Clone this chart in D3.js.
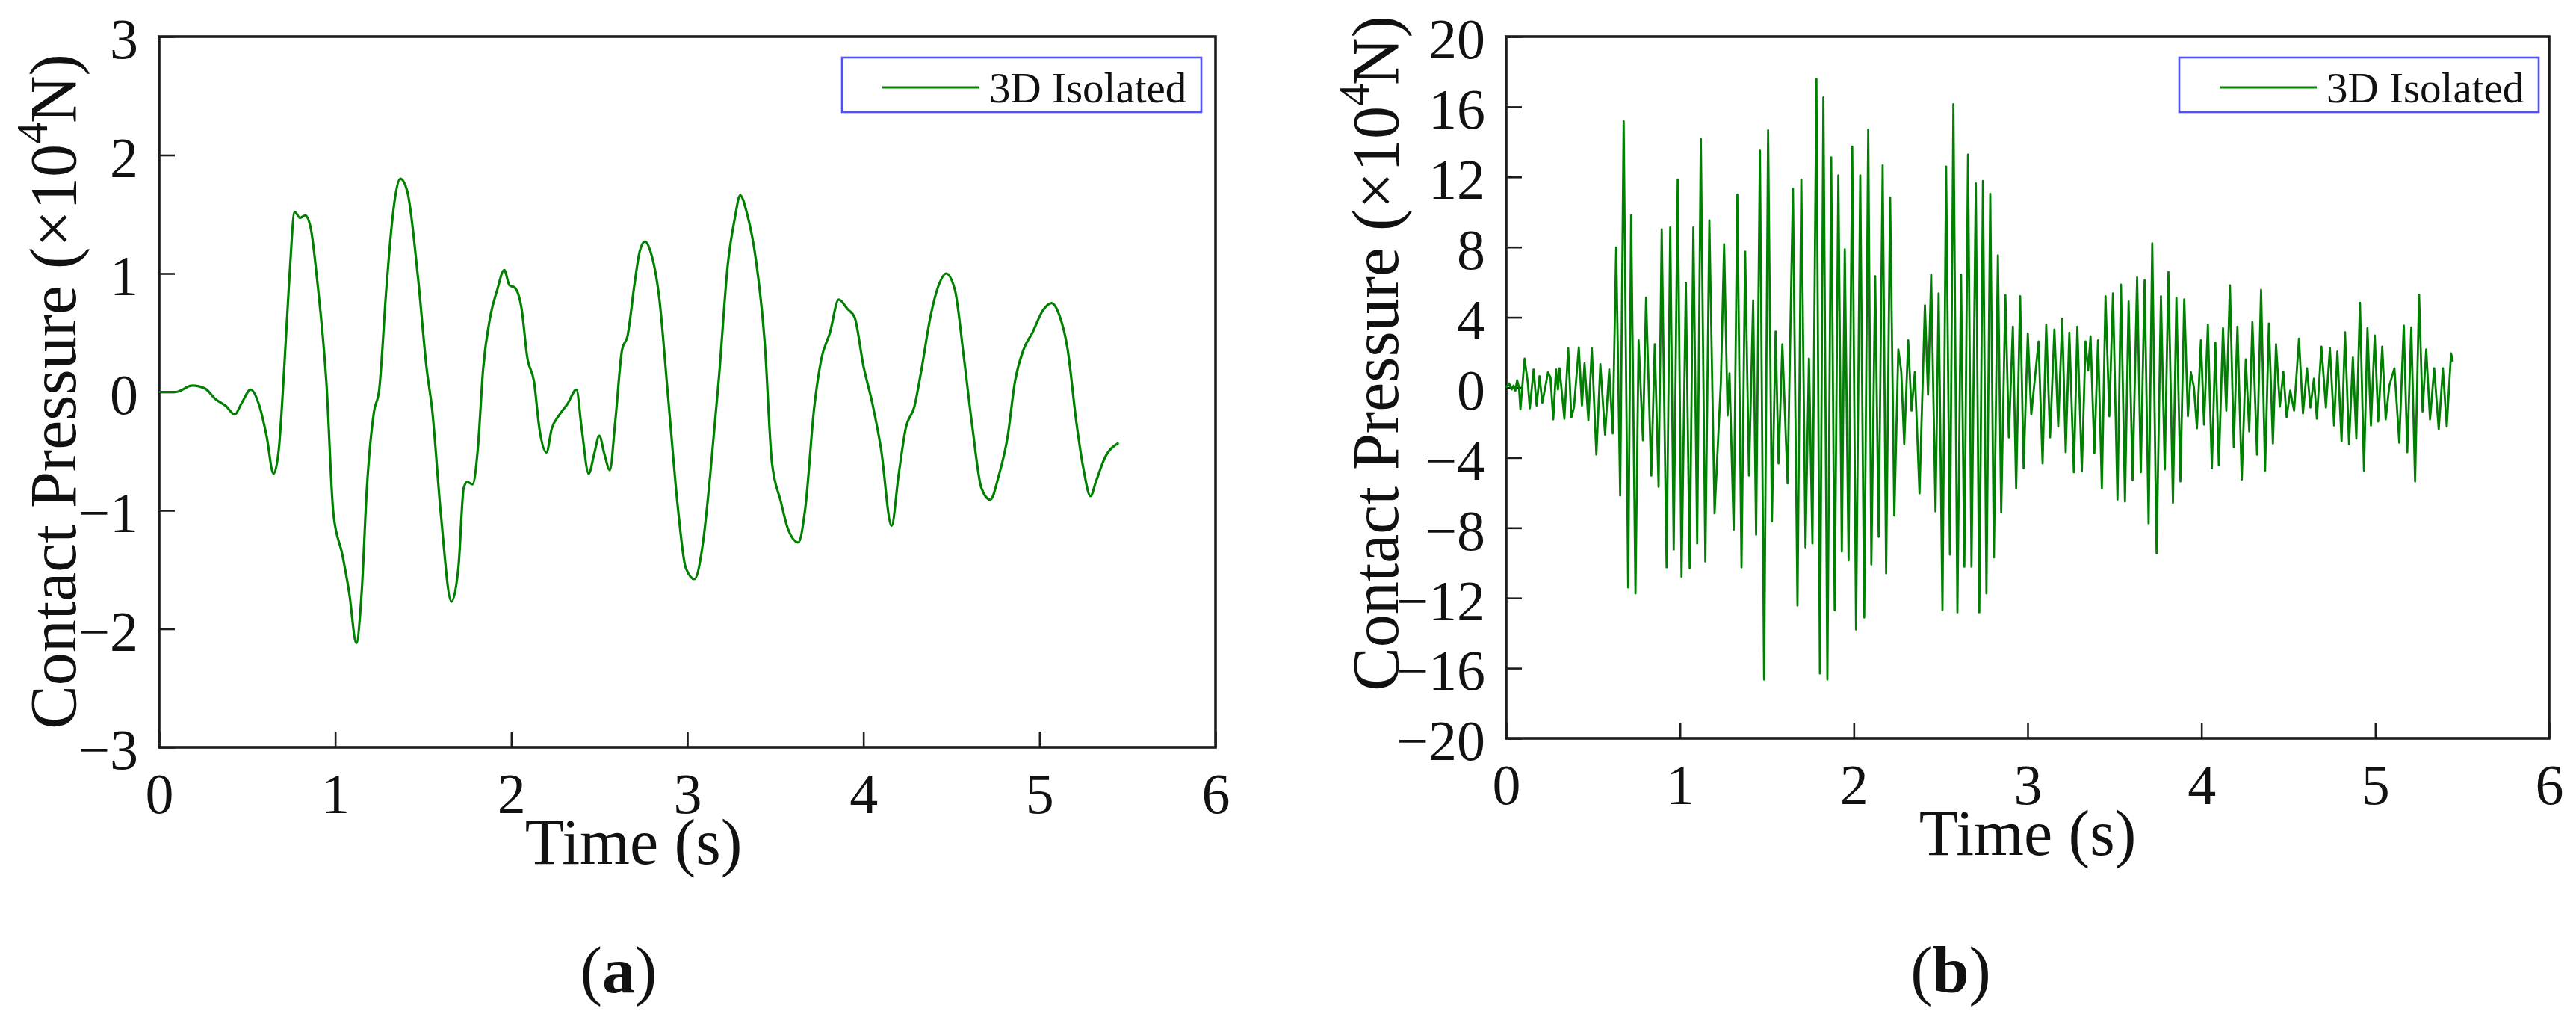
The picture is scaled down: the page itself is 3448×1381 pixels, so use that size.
<!DOCTYPE html>
<html>
<head>
<meta charset="utf-8">
<script src="https://cdn.jsdelivr.net/npm/d3@7"></script>
<style>
  html, body { margin: 0; padding: 0; background: #fff; }
  svg { display: block; font-family: "Liberation Serif", "Times New Roman", serif; }
</style>
</head>
<body>
<svg id="chart" width="3448" height="1381"></svg>
<script>
// (a) smooth response
const timeA = [
  0, 0.095, 0.19, 0.26, 0.32, 0.38, 0.43, 0.47, 0.52, 0.57,
  0.61, 0.65, 0.68, 0.71, 0.74, 0.77, 0.80, 0.83, 0.86, 0.90,
  0.95, 0.99, 1.04, 1.08, 1.12, 1.15, 1.18, 1.22, 1.25, 1.29,
  1.32, 1.34, 1.37, 1.41, 1.47, 1.52, 1.55, 1.60, 1.66, 1.70,
  1.73, 1.75, 1.78, 1.81, 1.84, 1.88, 1.92, 1.96, 1.99, 2.02,
  2.06, 2.09, 2.13, 2.16, 2.20, 2.23, 2.27, 2.32, 2.37, 2.40,
  2.44, 2.47, 2.50, 2.53, 2.56, 2.59, 2.63, 2.66, 2.70, 2.73,
  2.76, 2.79, 2.84, 2.89, 2.95, 2.99, 3.04, 3.09, 3.13, 3.18,
  3.23, 3.27, 3.30, 3.34, 3.39, 3.44, 3.48, 3.53, 3.57, 3.63,
  3.67, 3.72, 3.76, 3.81, 3.86, 3.91, 3.95, 4.00, 4.05, 4.10,
  4.16, 4.20, 4.24, 4.29, 4.33, 4.38, 4.43, 4.47, 4.52, 4.57,
  4.62, 4.67, 4.72, 4.77, 4.82, 4.86, 4.91, 4.96, 5.02, 5.07,
  5.11, 5.16, 5.21, 5.25, 5.29, 5.32, 5.37, 5.45
];
const pressA = [
  0, 0, 0.055, 0.03, -0.06, -0.12, -0.19, -0.09, 0.02, -0.12,
  -0.37, -0.69, -0.48, 0.19, 0.97, 1.52, 1.47, 1.49, 1.39, 0.91,
  0.08, -1.03, -1.37, -1.70, -2.12, -1.70, -0.81, -0.17, 0.02, 0.86,
  1.39, 1.64, 1.80, 1.69, 0.97, 0.19, -0.14, -1.03, -1.77, -1.48,
  -0.81, -0.76, -0.78, -0.48, 0.19, 0.63, 0.86, 1.03, 0.90, 0.88,
  0.69, 0.30, 0.08, -0.31, -0.51, -0.31, -0.20, -0.10, 0.02, -0.31,
  -0.69, -0.53, -0.37, -0.53, -0.66, -0.26, 0.36, 0.47, 0.91, 1.19,
  1.27, 1.19, 0.80, -0.03, -1.03, -1.48, -1.58, -1.26, -0.70, 0.13,
  1.08, 1.47, 1.66, 1.50, 1.11, 0.41, -0.59, -0.92, -1.15, -1.27,
  -0.98, -0.14, 0.27, 0.50, 0.78, 0.70, 0.63, 0.22, -0.09, -0.48,
  -1.13, -0.70, -0.31, -0.12, 0.19, 0.63, 0.91, 1.00, 0.86, 0.30,
  -0.31, -0.81, -0.91, -0.70, -0.37, 0.08, 0.36, 0.50, 0.69, 0.75,
  0.66, 0.36, -0.26, -0.65, -0.88, -0.76, -0.56, -0.43
];

// (b) oscillating response
const timeB = [
  0, 0.017, 0.032, 0.043, 0.053, 0.063, 0.074, 0.082, 0.106, 0.125,
  0.136, 0.158, 0.175, 0.192, 0.208, 0.241, 0.255, 0.271, 0.287, 0.298,
  0.307, 0.335, 0.357, 0.375, 0.390, 0.418, 0.436, 0.451, 0.473, 0.493,
  0.519, 0.542, 0.569, 0.593, 0.613, 0.633, 0.656, 0.676, 0.702, 0.719,
  0.744, 0.762, 0.787, 0.805, 0.835, 0.855, 0.877, 0.895, 0.923, 0.944,
  0.964, 0.987, 1.009, 1.034, 1.056, 1.077, 1.099, 1.120, 1.146, 1.169,
  1.199, 1.235, 1.254, 1.274, 1.285, 1.309, 1.330, 1.354, 1.375, 1.397,
  1.421, 1.438, 1.460, 1.484, 1.507, 1.529, 1.550, 1.567, 1.589, 1.619,
  1.650, 1.676, 1.698, 1.722, 1.742, 1.762, 1.785, 1.805, 1.825, 1.848,
  1.870, 1.890, 1.911, 1.931, 1.948,
  1.970, 1.991, 2.013, 2.037, 2.060, 2.083, 2.101, 2.123, 2.143, 2.166,
  2.186, 2.209, 2.233, 2.256, 2.273, 2.290, 2.313, 2.332, 2.351, 2.378,
  2.409, 2.427, 2.445, 2.470, 2.488, 2.510, 2.531, 2.553, 2.573, 2.596,
  2.617, 2.636, 2.657, 2.677, 2.702, 2.722, 2.743, 2.763, 2.785, 2.806,
  2.829, 2.848, 2.872, 2.892, 2.915, 2.934, 2.957, 2.977, 3.001, 3.021,
  3.040, 3.063, 3.086, 3.107, 3.129, 3.154, 3.176, 3.199, 3.219, 3.240,
  3.266, 3.286, 3.312, 3.333, 3.348, 3.362, 3.384, 3.405, 3.427, 3.448,
  3.470, 3.491, 3.517, 3.537, 3.560, 3.581, 3.604, 3.630, 3.651, 3.673,
  3.696, 3.717, 3.742,
  3.767, 3.789, 3.810, 3.836, 3.856, 3.879, 3.901, 3.922, 3.939, 3.957,
  3.974, 3.997, 4.015, 4.037, 4.060, 4.080, 4.100, 4.124, 4.143, 4.164,
  4.186, 4.207, 4.232, 4.255, 4.275, 4.293, 4.320, 4.343, 4.366, 4.388,
  4.411, 4.429, 4.451, 4.471, 4.490, 4.511, 4.533, 4.561, 4.584, 4.607,
  4.627, 4.647, 4.664, 4.690, 4.716, 4.739, 4.763, 4.782, 4.806, 4.826,
  4.849, 4.871, 4.891, 4.912, 4.935, 4.955, 4.975, 4.997, 5.017, 5.040,
  5.060, 5.081, 5.110, 5.138, 5.164, 5.184, 5.207, 5.229, 5.252, 5.272,
  5.293, 5.315, 5.339, 5.365, 5.389, 5.411, 5.436, 5.446
];
const pressB = [
  0, 0.23, -0.11, 0.11, -0.18, 0.41, 0, -1.25, 1.64, 0.23,
  -1.19, 1.03, -1.03, 0.64, -0.87, 0.87, 0.57, -1.82, 1.03, -0.11,
  1.09, -1.78, 2.23, -1.71, -1.14, 2.28, -1.03, 1.37, -1.87, 2.23,
  -3.83, 1.32, -2.69, 1.03, -2.62, 7.98, -6.16, 15.17, -11.40, 9.81,
  -11.74, 2.69, -3.01, 5.13, -5.02, 2.46, -5.66, 9.01, -10.26, 9.12,
  -9.24, 11.86, -10.79, 5.97, -10.31, 9.12, -8.89, 14.18, -9.92, 9.53,
  -7.18, 0.23, 8.16, -1.60, 0.80, -8.10, 10.99, -10.26, 7.75, -5.02,
  4.97, -8.39, 13.50, -16.65, 14.66, -7.64, 3.19, -4.33, 2.46, -5.47,
  11.33, -12.43, 11.86, -9.12, 1.64, -8.89, 17.60, -16.30, 16.53, -16.65,
  13.11, -12.70, 12.09, -9.35, 7.87,
  -9.85, 13.73, -13.80, 12.09, -13.11, 14.71, -10.10, 6.34, -8.51, 12.66,
  -10.60, 10.83, -7.30, 2.17, 0.91, -3.24, 2.69, -1.32, 0.87, -6.04,
  4.68, -0.41, 6.43, -7.07, 5.36, -12.70, 12.59, -9.53, 16.15, -12.82,
  6.43, -10.22, 13.27, -10.22, 11.63, -12.82, 11.77, -11.74, 11.04, -9.69,
  7.53, -7.12, 5.25, -2.85, 3.47, -5.75, 5.20, -4.61, 3.08, -1.55,
  0.34, 2.62, -4.33, 3.58, -2.85, 3.31, -2.23, 3.92, -3.69, 3.12,
  -4.83, 3.47, -4.79, 2.62, 0.96, 2.92, -3.76, 2.69, -5.75, 5.20,
  -1.64, 5.36, -6.39, 5.86, -6.50, 4.90, -5.29, 6.27, -4.83, 6.11,
  -7.75, 8.21, -9.46,
  5.20, -4.67, 6.57, -6.57, 5.13, -5.36, 5.02, -1.64, 0.87, 0,
  -2.33, 2.69, -2.12, 3.58, -4.61, 2.55, -4.45, 3.38, -1.32, 5.82,
  -3.42, 3.47, -5.25, 1.60, -2.51, 3.72, -3.83, 5.56, -4.74, 3.65,
  -3.19, 2.46, -1.09, 0.91, -1.71, -0.18, -1.32, 2.78, -1.48, 1.09,
  -1.14, 0.50, -1.78, 2.33, -1.14, 2.23, -2.17, 2.05, -3.08, 3.15,
  -3.24, 1.71, -2.92, 4.83, -4.74, 3.38, -2.17, 2.96, -1.94, 2.33,
  -1.82, 0.11, 1.09, -3.15, 3.53, -3.69, 3.42, -5.36, 5.29, -1.37,
  2.17, -1.82, 1.09, -2.39, 1.09, -2.23, 1.94, 1.48
];

const xTicks = [0, 1, 2, 3, 4, 5, 6];
const yTicksA = [-3, -2, -1, 0, 1, 2, 3];
const yTicksB = [-20, -16, -12, -8, -4, 0, 4, 8, 12, 16, 20];
const seriesName = '3D Isolated';
const xTitle = 'Time (s)';

const lineColor = '#008000';
const axisColor = '#1c1c1c';
const fmt = d3.format('d');   // d3 v7 uses the proper minus sign

const svg = d3.select('#chart');
svg.append('rect').attr('width', 3448).attr('height', 1381).attr('fill', '#fff');

function drawPanel(p) {
    const x = d3.scaleLinear().domain([0, 6]).range([p.left, p.right]);
    const y = d3.scaleLinear().domain(p.yDomain).range([p.bottom, p.top]);
    const g = svg.append('g');

    // ticks point inward
    const yAxis = d3.axisLeft(y).tickValues(p.yTicks).tickFormat(fmt)
        .tickSizeInner(-21).tickSizeOuter(0).tickPadding(28);
    const xAxis = d3.axisBottom(x).tickValues(xTicks).tickFormat(fmt)
        .tickSizeInner(-21).tickSizeOuter(0).tickPadding(34);

    g.append('g').attr('transform', `translate(${p.left},0)`).call(yAxis)
        .call(a => a.select('.domain').remove())
        .call(a => a.selectAll('line').attr('stroke', axisColor).attr('stroke-width', 2.6))
        .call(a => a.selectAll('text').attr('dy', '0.38em').attr('fill', '#111')
            .style('font-size', '76px').style('font-family', '"Liberation Serif", serif'));

    g.append('g').attr('transform', `translate(0,${p.bottom})`).call(xAxis)
        .call(a => a.select('.domain').remove())
        .call(a => a.selectAll('line').attr('stroke', axisColor).attr('stroke-width', 2.6))
        .call(a => a.selectAll('text').attr('fill', '#111')
            .style('font-size', '76px').style('font-family', '"Liberation Serif", serif'));

    // frame
    g.append('rect')
        .attr('x', p.left).attr('y', p.top)
        .attr('width', p.right - p.left).attr('height', p.bottom - p.top)
        .attr('fill', 'none').attr('stroke', axisColor).attr('stroke-width', 3.6);

    const line = d3.line()
        .x((d, i) => x(p.times[i]))
        .y(d => y(d))
        .curve(p.curve);

    g.append('path')
        .datum(p.values)
        .attr('d', line)
        .attr('fill', 'none')
        .attr('stroke', lineColor)
        .attr('stroke-width', p.lineWidth)
        .attr('stroke-linejoin', 'round');

    // legend
    const lx = p.right - p.legendRight - 481, ly = p.top + 28;
    g.append('rect')
        .attr('x', lx).attr('y', ly).attr('width', 481).attr('height', 73)
        .attr('fill', '#fff').attr('stroke', '#5050ff').attr('stroke-width', 2.6);
    g.append('line')
        .attr('x1', lx + 54).attr('x2', lx + 184)
        .attr('y1', ly + 40).attr('y2', ly + 40)
        .attr('stroke', lineColor).attr('stroke-width', 3);
    g.append('text')
        .attr('x', lx + 197).attr('y', ly + 60)
        .style('font-size', '57px').attr('fill', '#111')
        .text(seriesName);

    // axis titles
    g.append('text')
        .attr('x', p.xTitleX).attr('y', p.bottom + 156)
        .attr('text-anchor', 'middle')
        .style('font-size', '86px').attr('fill', '#111')
        .text(xTitle);

    const yt = g.append('text')
        .attr('transform', `translate(${p.yTitleX},${p.yTitleY}) rotate(-90)`)
        .attr('text-anchor', 'middle')
        .style('font-size', '88px').attr('fill', '#111');
    yt.append('tspan').text('Contact Pressure (×10');
    yt.append('tspan').attr('dy', -38).style('font-size', '60px').text('4');
    yt.append('tspan').attr('dy', 38).attr('dx', -2).text('N)');

    // panel tag
    const tag = g.append('text')
        .attr('x', p.tagX).attr('y', 1328)
        .attr('text-anchor', 'middle')
        .style('font-size', '88px').attr('fill', '#111');
    tag.append('tspan').text('(');
    tag.append('tspan').style('font-weight', 'bold').text(p.tag);
    tag.append('tspan').text(')');
}

drawPanel({
    left: 213, right: 1627, top: 49, bottom: 1000,
    yDomain: [-3, 3], yTicks: yTicksA,
    times: timeA, values: pressA, curve: d3.curveMonotoneX, lineWidth: 3.2,
    legendRight: 19,
    xTitleX: 848, yTitleX: 101, yTitleY: 524,
    tagX: 828, tag: 'a'
});

drawPanel({
    left: 2016, right: 3412, top: 49, bottom: 988,
    yDomain: [-20, 20], yTicks: yTicksB,
    times: timeB, values: pressB, curve: d3.curveLinear, lineWidth: 2.8,
    legendRight: 14,
    xTitleX: 2714, yTitleX: 1871, yTitleY: 473,
    tagX: 2611, tag: 'b'
});
</script>
</body>
</html>
